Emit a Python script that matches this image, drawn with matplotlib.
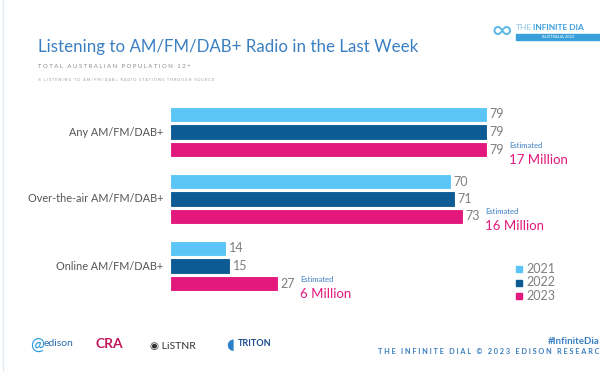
import numpy as np
import matplotlib.pyplot as plt

categories = ['Any AM/FM/DAB+', 'Over-the-air AM/FM/DAB+', 'Online AM/FM/DAB+']
years = ['2021', '2022', '2023']
v2021 = [79, 70, 14]
v2022 = [79, 71, 15]
v2023 = [79, 73, 27]
estimates = ['17 Million', '16 Million', '6 Million']

colors = ['#5bc5f7', '#0d5b94', '#e3187d']
gray = '#7f7f7f'

plt.rcParams['font.family'] = ['Lato', 'DejaVu Sans']


def spaced(s):
    return ' '.join(s)


W, H = 600, 372
fig = plt.figure(figsize=(6, 3.72), dpi=100)
fig.patch.set_facecolor('white')

# axes in pixel-like units: x=0 at px 170, 4.01 px per percent
px_per = 4.01
ax = fig.add_axes([170 / W, 0, (W - 170) / W, 1])
ax.set_xlim(0, (W - 170) / px_per)
ax.set_ylim(H, 0)
ax.axis('off')

g_centers = 132 + 67 * np.arange(len(categories))
offs = [-17.5, 0, 17.5]
bh = 15.5
series = [v2021, v2022, v2023]
for i, vals in enumerate(series):
    ys = g_centers + offs[i]
    ax.barh(ys, vals, height=bh, color=colors[i], edgecolor='white', linewidth=0.8)
    for y, v in zip(ys, vals):
        ax.text(v + 0.6, y, str(v), va='center', ha='left', fontsize=9, color=gray)

for y, c in zip(g_centers, categories):
    ax.text(-1.7, y, c, va='center', ha='right', fontsize=7.8, color='#555555')

for j, est in enumerate(estimates):
    x = v2023[j] + 5.5
    y = g_centers[j] + offs[2]
    ax.text(x, y - 1, 'Estimated', fontsize=5.5, color='#3a7fc1', va='bottom', ha='left')
    ax.text(x, y + 4, est, fontsize=9.5, color='#e3187d', va='top', ha='left')

# legend
for i, yr in enumerate(years):
    ly = 269 + 13.5 * i
    fig.patches.append(plt.Rectangle((516 / W, 1 - (ly + 3) / H), 6 / W, 6 / H,
                                     transform=fig.transFigure, color=colors[i]))
    fig.text(526 / W, 1 - ly / H, yr, fontsize=9, color=gray, va='center', ha='left')

# titles
fig.text(38 / W, 1 - 47 / H, 'Listening to AM/FM/DAB+ Radio in the Last Week',
         fontsize=12.2, color='#3a7fc1', va='center', ha='left')
fig.text(38 / W, 1 - 67 / H, spaced('TOTAL AUSTRALIAN POPULATION 12+'),
         fontsize=4.3, color='#8a8a8a', va='center', ha='left')
fig.text(38 / W, 1 - 80 / H, spaced('% LISTENING TO AM/FM/DAB+ RADIO STATIONS THROUGH SOURCE'),
         fontsize=2.7, color='#9a9a9a', va='center', ha='left')

# header logo
fig.text(516 / W, 1 - 27 / H, 'THE', fontsize=6, color='#8fc6e8', va='center', ha='left')
fig.text(533 / W, 1 - 27 / H, 'INFINITE DIA', fontsize=6, color='#3aa0dc',
         va='center', ha='left', fontweight='bold')
fig.patches.append(plt.Rectangle((516 / W, 1 - 40 / H), 84 / W, 6 / H,
                                 transform=fig.transFigure, color='#3aa0dc'))
fig.text(558 / W, 1 - 37 / H, 'AUSTRALIA 2023', fontsize=3, color='white', va='center', ha='center')
fig.text(502 / W, 1 - 31 / H, '∞', fontsize=20, color='#5bb8e8', va='center', ha='center')

# footer
fig.text(600 / W, 1 - 341 / H, '#InfiniteDia', fontsize=7, color='#3a7fc1',
         va='center', ha='right', fontweight='bold')
fig.text(600 / W, 1 - 352 / H, spaced('THE INFINITE DIAL © 2023 EDISON RESEARC'), fontsize=5.3,
         color='#3a7fc1', va='center', ha='right', fontweight='bold')

fig.text(30 / W, 1 - 345 / H, '@', fontsize=12, color='#2a9be0', va='center', ha='left')
fig.text(44 / W, 1 - 344 / H, 'edison', fontsize=7.5, color='#2b6cb0', va='center', ha='left')
fig.text(95 / W, 1 - 344 / H, 'CRA', fontsize=10, color='#c2185b', va='center', ha='left',
         fontweight='bold')
fig.text(150 / W, 1 - 346 / H, '◉ LiSTNR', fontsize=7.5, color='#333333', va='center', ha='left')
fig.text(226 / W, 1 - 345 / H, '◖', fontsize=11, color='#2a7fc8', va='center', ha='left')
fig.text(238 / W, 1 - 344 / H, 'TRITON', fontsize=6.5, color='#1a4b8c', va='center', ha='left',
         fontweight='bold')

# left light edge line
fig.add_artist(plt.Line2D([3 / W, 3 / W], [0, 1], transform=fig.transFigure,
                          color='#e3ecf3', linewidth=1))

fig.savefig('out.png', dpi=100)
